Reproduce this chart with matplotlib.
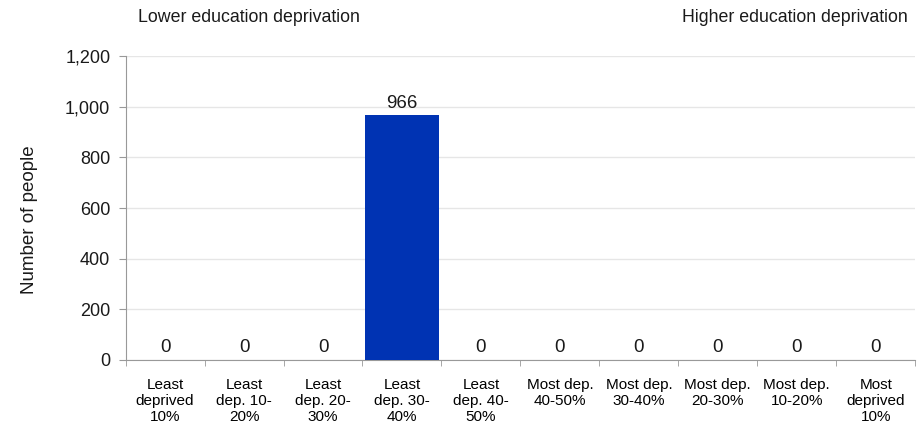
import matplotlib
matplotlib.use("Agg")
import matplotlib.pyplot as plt
from matplotlib.ticker import FuncFormatter, FixedLocator

plt.rcParams['font.family'] = ['Liberation Sans', 'DejaVu Sans']

categories = ["Least\ndeprived\n10%", "Least\ndep. 10-\n20%", "Least\ndep. 20-\n30%", "Least\ndep. 30-\n40%",
              "Least\ndep. 40-\n50%", "Most dep.\n40-50%", "Most dep.\n30-40%", "Most dep.\n20-30%",
              "Most dep.\n10-20%", "Most\ndeprived\n10%"]
values = [0, 0, 0, 966, 0, 0, 0, 0, 0, 0]
y_ticks = [0, 200, 400, 600, 800, 1000, 1200]

fig = plt.figure(figsize=(9.17, 4.28), dpi=100)
ax = fig.add_axes([0.137, 0.159, 0.861, 0.71])

x = list(range(len(categories)))
ax.bar(x, values, width=0.93, color="#0033B3", zorder=3)
for xi, v in zip(x, values):
    ax.text(xi, v + 14, f"{v:,}", ha="center", va="bottom", fontsize=13.5, color="#1a1a1a")

ax.set_xlim(-0.5, len(categories) - 0.5)
ax.set_ylim(0, 1200)
ax.set_yticks(y_ticks)
ax.yaxis.set_major_formatter(FuncFormatter(lambda v, p: f"{int(v):,}"))
ax.grid(axis="y", color="#e6e6e6", linewidth=1, zorder=0)
ax.set_xticks(x)
ax.set_xticklabels(categories, fontsize=11, linespacing=1.18)
ax.tick_params(axis="x", length=0, pad=13)
ax.xaxis.set_minor_locator(FixedLocator([i - 0.5 for i in range(len(categories) + 1)]))
ax.tick_params(axis="x", which="minor", length=4, color="#999999")
ax.tick_params(axis="y", labelsize=13, length=5, pad=6, colors="#999999", labelcolor="#1a1a1a")
for s in ["top", "right"]:
    ax.spines[s].set_visible(False)
for s in ["left", "bottom"]:
    ax.spines[s].set_color("#999999")

fig.text(30 / 917, 1 - 220 / 428, "Number of people", fontsize=13.5, rotation=90,
         va="center", ha="center", color="#1a1a1a")
fig.text(138 / 917, 1 - 18 / 428, "Lower education deprivation", fontsize=12.8, va="center", ha="left", color="#1a1a1a")
fig.text(908 / 917, 1 - 18 / 428, "Higher education deprivation", fontsize=12.8, va="center", ha="right", color="#1a1a1a")

fig.savefig("out.png", dpi=100)
